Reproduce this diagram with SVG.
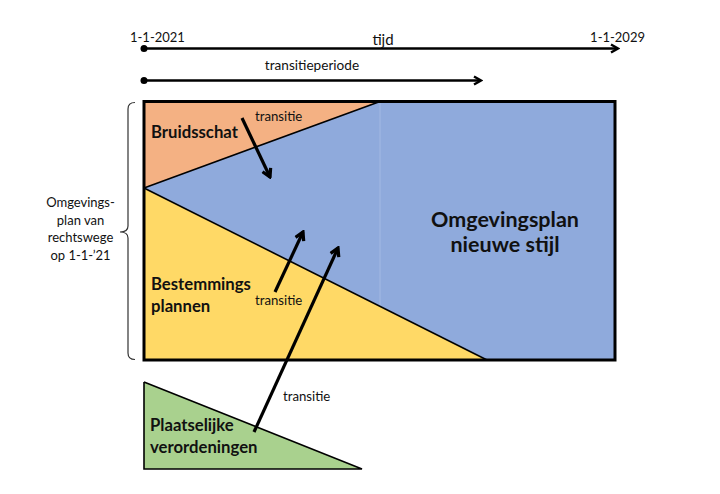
<svg xmlns="http://www.w3.org/2000/svg" width="720" height="494" viewBox="0 0 720 494">
<defs>
<style>
text{font-family:Lato,"Liberation Sans",sans-serif;fill:#111}
.lbl{font-size:13px}
.sm{font-size:13.2px}
.b{font-weight:bold;font-size:16.7px}
.big{font-weight:bold;font-size:21.5px}
.edge{stroke:#000;stroke-width:1.6;fill:none}
.arr{stroke:#000;stroke-width:3.2;fill:none;marker-end:url(#head)}
.tl{stroke:#000;stroke-width:2.4;fill:none;marker-end:url(#tlhead)}
</style>
<marker id="head" markerUnits="userSpaceOnUse" viewBox="0 0 12 12" refX="10" refY="6" markerWidth="12" markerHeight="12" orient="auto">
<path d="M2,1.5 L10,6 L2,10.5" fill="none" stroke="#000" stroke-width="3.2" stroke-linejoin="miter"/>
</marker>
<marker id="tlhead" markerUnits="userSpaceOnUse" viewBox="0 0 12 12" refX="10" refY="6" markerWidth="12" markerHeight="12" orient="auto">
<path d="M3,2 L10,6 L3,10" fill="none" stroke="#000" stroke-width="2.4"/>
</marker>
</defs>
<rect width="720" height="494" fill="#fff"/>

<g id="timeline">
<circle cx="144" cy="48.5" r="3.5" fill="#000"/>
<line class="tl" x1="144" y1="48.5" x2="618" y2="48.5"/>
<text class="lbl" x="130" y="42">1-1-2021</text>
<text x="383" y="45" style="font-size:15px" text-anchor="middle">tijd</text>
<text class="lbl" x="645" y="42" text-anchor="end">1-1-2029</text>
</g>

<g id="transitieperiode">
<circle cx="144" cy="80.5" r="3.5" fill="#000"/>
<line class="tl" x1="144" y1="80.5" x2="481" y2="80.5"/>
<text x="312" y="70" style="font-size:13.6px" text-anchor="middle">transitieperiode</text>
</g>

<g id="omgevingsplan-nieuwe-stijl">
<rect x="144" y="101.5" width="471" height="258.5" fill="#8FAADC"/>
<line x1="380" y1="102" x2="380" y2="306" stroke="#a3b9e3" stroke-width="1"/>
<text class="big" x="505" y="227" text-anchor="middle">Omgevingsplan</text>
<text class="big" x="505" y="252" text-anchor="middle">nieuwe stijl</text>
</g>

<g id="bruidsschat">
<polygon points="144,101.5 380,101.5 144,188" fill="#F4B183"/>
<line class="edge" x1="144" y1="188" x2="380" y2="101.5"/>
<text class="b" x="151" y="138">Bruidsschat</text>
</g>

<g id="bestemmingsplannen">
<polygon points="144,188 487,360 144,360" fill="#FFD966"/>
<line class="edge" x1="144" y1="188" x2="487" y2="360"/>
<text class="b" x="151" y="290">Bestemmings</text>
<text class="b" x="151" y="312">plannen</text>
</g>

<g id="kader">
<rect x="144" y="101.5" width="471" height="258.5" fill="none" stroke="#000" stroke-width="3"/>
</g>

<g id="plaatselijke-verordeningen">
<polygon points="144,382 362,469 144,469" fill="#A9D18E"/>
<polyline points="144,382 362,469 144,469 144,382" fill="none" stroke="#000" stroke-width="1.6"/>
<text class="b" x="150" y="431">Plaatselijke</text>
<text class="b" x="150" y="453">verordeningen</text>
</g>

<g id="omgevingsplan-van-rechtswege">
<path d="M135,102.5 Q128,102.5 128,109 L128,226 Q128,232 120,232 Q128,232 128,238 L128,353 Q128,359.5 135,359.5" fill="none" stroke="#333" stroke-width="1.2"/>
<text class="lbl" x="80.5" y="207" text-anchor="middle">Omgevings-</text>
<text class="lbl" x="80.5" y="224.5" text-anchor="middle">plan van</text>
<text class="lbl" x="80.5" y="242" text-anchor="middle">rechtswege</text>
<text class="lbl" x="80.5" y="259.5" text-anchor="middle">op 1-1-’21</text>
</g>

<g id="connectors">
<line class="arr" x1="242" y1="118" x2="270" y2="177"/>
<text class="sm" x="255" y="121">transitie</text>
<line class="arr" x1="275" y1="292" x2="303" y2="232"/>
<text class="sm" x="255" y="305">transitie</text>
<line class="arr" x1="254" y1="432" x2="338" y2="248"/>
<text class="sm" x="283" y="401">transitie</text>
</g>
</svg>
